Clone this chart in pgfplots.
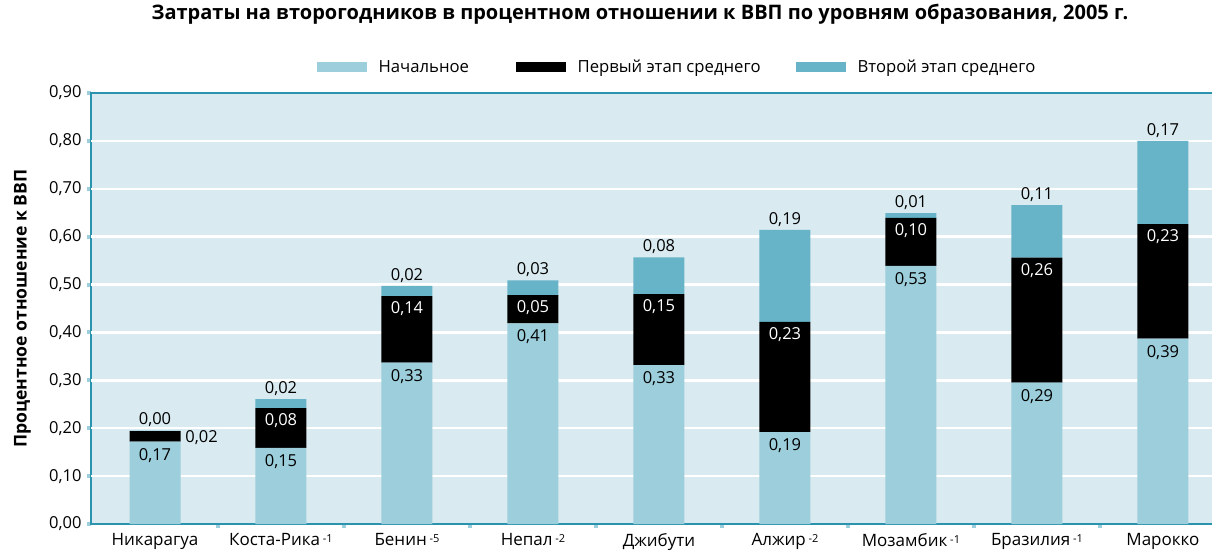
\documentclass[border=0pt]{standalone}
\usepackage{fontspec}
\setmainfont{Open Sans}
\usepackage{pgfplots}
\usepackage{pgfplotstable}
\pgfplotsset{compat=1.18}
\definecolor{lightc}{HTML}{9CCEDB}
\definecolor{secc}{HTML}{67B3C7}
\definecolor{bgc}{HTML}{D9EBF1}
\definecolor{axisc}{HTML}{2B93AD}
\definecolor{tickc}{HTML}{9CCEDB}
\pgfplotstableread{
x light black second Llab Blab Slab
0 0.172 0.022 0.001 0,17 {} 0,00
1 0.159 0.083 0.019 0,15 0,08 0,02
2 0.337 0.139 0.021 0,33 0,14 0,02
3 0.419 0.059 0.031 0,41 0,05 0,03
4 0.332 0.148 0.077 0,33 0,15 0,08
5 0.192 0.230 0.192 0,19 0,23 0,19
6 0.539 0.100 0.010 0,53 0,10 0,01
7 0.295 0.261 0.110 0,29 0,26 0,11
8 0.387 0.239 0.174 0,39 0,23 0,17
}\datatable
\newcommand{\sfx}[1]{\,\raisebox{0.2em}{\fontsize{11}{12}\selectfont #1}}
\begin{document}
\begin{tikzpicture}
\begin{axis}[
  scale only axis,
  width=1123pt, height=431pt,
  xmin=-0.508, xmax=8.405,
  ymin=0, ymax=0.9,
  ybar stacked, bar width=51pt,
  axis background/.style={fill=bgc},
  axis line style={draw=axisc, line width=1.6pt},
  ytick={0,0.1,...,0.9},
  ytick pos=left, xtick pos=bottom,
  tick align=outside,
  major tick length=4pt,
  ytick style={draw=tickc, line width=4pt},
  xtick={0,...,8},
  xtick style={draw=none},
  minor xtick={0.5,1.5,...,7.5},
  minor tick length=4pt,
  minor x tick style={draw=tickc, line width=4pt},
  xticklabels={Никарагуа, Коста-Рика\sfx{-1}, Бенин\sfx{-5}, Непал\sfx{-2}, Джибути, Алжир\sfx{-2}, Мозамбик\sfx{-1}, Бразилия\sfx{-1}, Марокко},
  xticklabel style={yshift=-2pt, font=\fontsize{17}{19}\selectfont},
  yticklabel style={xshift=-2pt, font=\fontsize{16.5}{18}\selectfont},
  /pgf/number format/.cd, fixed, fixed zerofill, precision=2, use comma, assume math mode=true,
  /pgfplots/.cd,
  extra y ticks={0.1,0.2,...,0.81},
  extra y tick labels={},
  extra y tick style={ymajorgrids=true, major tick length=0pt, major grid style={draw=white, line width=2.5pt}},
  ylabel={Процентное отношение к ВВП},
  ylabel style={at={(axis description cs:-0.061,0.5)}, anchor=center, font=\bfseries\fontsize{17.6}{19}\selectfont},
  title={Затраты на второгодников в процентном отношении к ВВП по уровням образования, 2005 г.},
  title style={at={(axis description cs:0.4889,1)}, anchor=center, yshift=73pt, font=\bfseries\fontsize{20}{24}\selectfont},
  legend style={at={(axis description cs:0.2007,1)}, anchor=west, yshift=26pt, draw=none, fill=none,
    legend columns=3, inner sep=0pt, nodes={inner sep=0pt, anchor=west},
    font=\fontsize{16.7}{18}\selectfont,
    /tikz/every odd column/.append style={column sep=12pt},
    /tikz/every even column/.append style={column sep=0pt}},
  point meta=explicit symbolic,
  nodes near coords,
  every node near coord/.append style={font=\fontsize{16.5}{18}\selectfont},
  visualization depends on={rawy \as \segh},
]
\addplot[fill=lightc, draw=none,
  nodes near coords align={below},
  every node near coord/.append style={yshift=\segh*239.44pt-3pt},
  legend image code/.code={\fill[lightc] (0pt,-5pt) rectangle (50pt,5pt);}]
  table[x=x, y=light, meta=Llab] {\datatable};
\addlegendentry{\makebox[137pt][l]{Начальное}}
\addplot[fill=black, draw=none,
  nodes near coords align={below},
  every node near coord/.append style={text=white, yshift=\segh*239.44pt-2pt},
  legend image code/.code={\fill[black] (0pt,-5pt) rectangle (50pt,5pt);}]
  table[x=x, y=black, meta=Blab] {\datatable};
\addlegendentry{\makebox[218pt][l]{Первый этап среднего}}
\addplot[fill=secc, draw=none,
  nodes near coords align={above},
  every node near coord/.append style={yshift=\segh*239.44pt},
  legend image code/.code={\fill[secc] (0pt,-5pt) rectangle (50pt,5pt);}]
  table[x=x, y=second, meta=Slab] {\datatable};
\addlegendentry{Второй этап среднего}
\node[anchor=west, font=\fontsize{16.5}{18}\selectfont, inner sep=0pt] at (axis cs:0.24,0.181) {0,02};
\end{axis}
\pgfresetboundingbox
\path[use as bounding box] (-91pt,-26pt) rectangle (1121pt,524pt);
\end{tikzpicture}
\end{document}
